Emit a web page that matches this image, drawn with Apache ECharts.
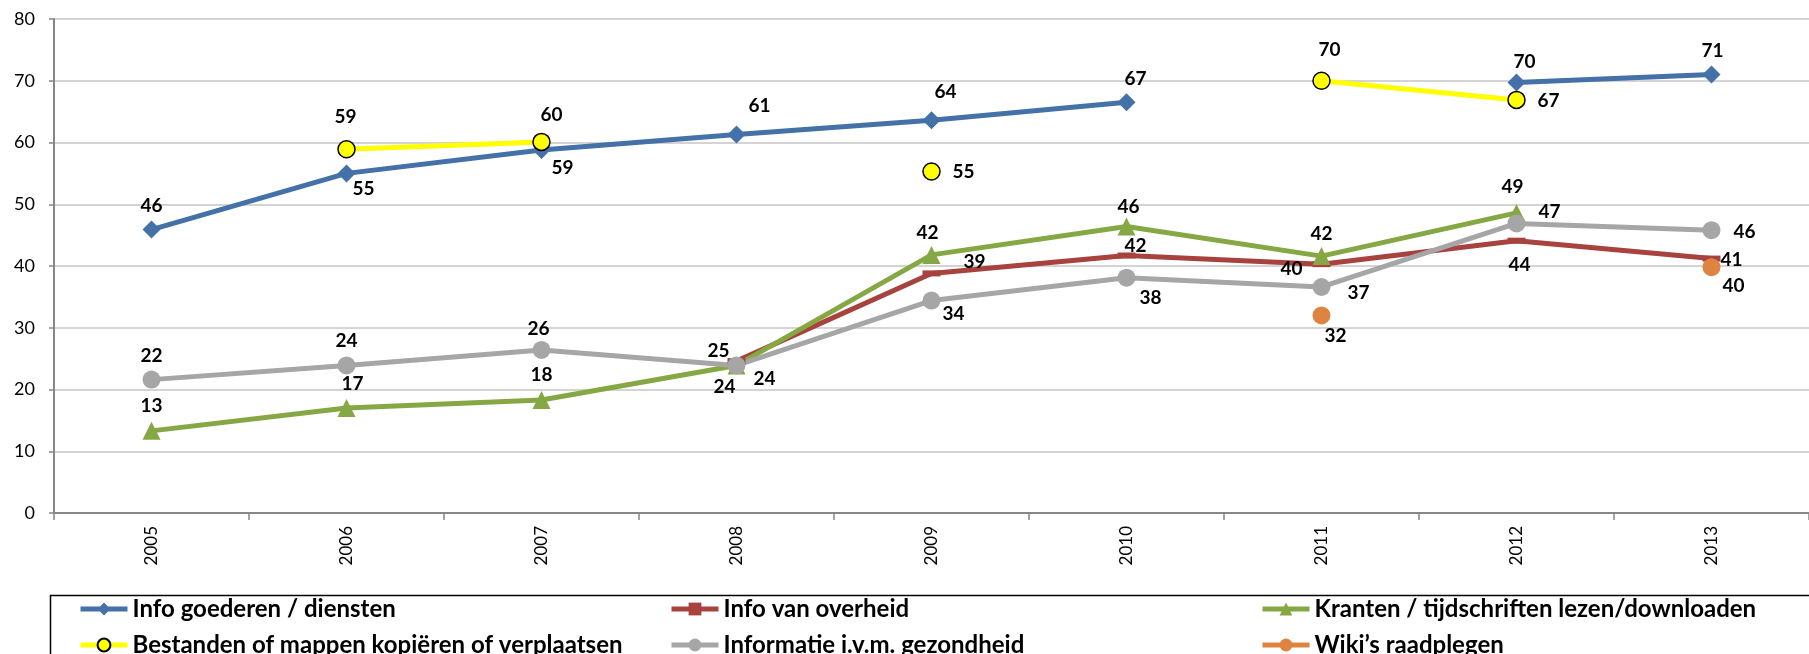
<!DOCTYPE html>
<html>
<head>
<meta charset="utf-8">
<script src="https://cdn.jsdelivr.net/npm/echarts@6/dist/echarts.min.js"></script>
<style>
  html, body { margin: 0; padding: 0; background: #fff; }
  #chart { width: 1809px; height: 654px; }
</style>
</head>
<body>
<div id="chart"></div>
<script>
  // categorieen
  var years = ['2005', '2006', '2007', '2008', '2009', '2010', '2011', '2012', '2013'];
  var yTicks = [0, 10, 20, 30, 40, 50, 60, 70, 80];

  // reeksen (percentages)
  var infoGoederen = [45.9, 55.0, 58.8, 61.3, 63.6, 66.5, null, 69.7, 71.0];
  var bestanden = [null, 58.9, 60.1, null, 55.3, null, 70.0, 66.9, null];
  var infoOverheid = [null, null, null, 24.6, 38.8, 41.7, 40.3, 44.1, 41.2];
  var kranten = [13.3, 17.0, 18.3, 23.9, 41.8, 46.4, 41.6, 48.6, null];
  var gezondheid = [21.6, 23.9, 26.4, 23.9, 34.4, 38.1, 36.6, 46.9, 45.8];
  var wiki = [null, null, null, null, null, null, 32.0, null, 39.8];

  // positie van de datalabels t.o.v. het punt (px)
  var offsets = {
    infoGoederen: [[0, -24], [17, 15], [21, 18], [23, -29], [14, -28], [9, -23], null, [8, -21], [1, -24]],
    bestanden: [null, [-1, -32], [10, -27], null, [32, 0], null, [8, -31], [32, 1], null],
    infoOverheid: [null, null, null, [-18, -10], [43, -12], [9, -10], [-30, 5], [3, 24], [20, 1]],
    kranten: [[0, -25], [6, -24], [0, -25], [-12, 21], [-4, -22], [2, -20], [0, -22], [-4, -26], null],
    gezondheid: [[0, -24], [0, -25], [-3, -21], [28, 13], [22, 13], [24, 20], [37, 6], [33, -12], [33, 2]],
    wiki: [null, null, null, null, null, null, [14, 20], null, [22, 19]]
  };

  function buildData(values, offs) {
    return values.map(function (v, i) {
      if (v === null) return null;
      return {
        value: v,
        label: { offset: offs[i] }
      };
    });
  }

  var labelStyle = {
    show: true,
    position: 'inside',
    align: 'center',
    verticalAlign: 'middle',
    color: '#000',
    fontFamily: 'Lato',
    fontWeight: 'bold',
    fontSize: 19,
    formatter: function (p) {
      return Math.round(p.value);
    }
  };

  function lineSeries(name, values, offs, color, symbol, symbolSize, itemStyle) {
    return {
      name: name,
      type: 'line',
      data: buildData(values, offs),
      connectNulls: false,
      symbol: symbol,
      symbolSize: symbolSize,
      showAllSymbol: true,
      lineStyle: { color: color, width: 5 },
      itemStyle: itemStyle || { color: color },
      label: labelStyle,
      emphasis: { disabled: true },
      animation: false
    };
  }

  var series = [
    lineSeries('Info goederen / diensten', infoGoederen, offsets.infoGoederen, '#4471A8', 'diamond', 18),
    lineSeries('Info van overheid', infoOverheid, offsets.infoOverheid, '#A8423F', 'rect', [18, 6]),
    lineSeries('Kranten / tijdschriften lezen/downloaden', kranten, offsets.kranten, '#86A844', 'triangle', 18),
    lineSeries('Bestanden of mappen kopiëren of verplaatsen', bestanden, offsets.bestanden, '#FFFF00', 'circle', 17,
      { color: '#FFFF00', borderColor: '#000', borderWidth: 1.5 }),
    lineSeries('Informatie i.v.m. gezondheid', gezondheid, offsets.gezondheid, '#A6A6A6', 'circle', 18),
    lineSeries("Wiki’s raadplegen", wiki, offsets.wiki, '#DE8341', 'circle', 18)
  ];
  // z-volgorde zoals in het origineel
  series[0].z = 6; series[3].z = 7;

  var legendText = { color: '#000', fontFamily: 'Lato', fontWeight: 'bold', fontSize: 24, lineHeight: 26 };
  function legendAt(name, left, top) {
    return {
      data: [name],
      left: left,
      top: top,
      padding: 0,
      itemWidth: 47,
      itemHeight: 16,
      itemGap: 0,
      lineStyle: { width: 5 },
      textStyle: legendText,
      selectedMode: false
    };
  }

  var option = {
    animation: false,
    backgroundColor: '#fff',
    grid: { left: 54, width: 1770, top: 19, bottom: 141, containLabel: false },
    xAxis: {
      type: 'category',
      data: years,
      boundaryGap: true,
      axisLine: { lineStyle: { color: '#878787', width: 2 } },
      axisTick: { show: true, length: 7, lineStyle: { color: '#878787', width: 1.5 } },
      axisLabel: {
        rotate: 90,
        margin: 13,
        color: '#000',
        fontFamily: 'Lato',
        fontSize: 17
      },
      splitLine: { show: false }
    },
    yAxis: {
      type: 'value',
      min: yTicks[0],
      max: yTicks[yTicks.length - 1],
      interval: 10,
      axisLine: { show: true, lineStyle: { color: '#878787', width: 2 } },
      axisTick: { show: true, length: 5, lineStyle: { color: '#878787', width: 1.5 } },
      axisLabel: {
        margin: 19,
        color: '#000',
        fontFamily: 'Lato',
        fontSize: 18
      },
      splitLine: { lineStyle: { color: '#C6C6C6', width: 1.5 } }
    },
    legend: [
      legendAt('Info goederen / diensten', 78, 596),
      legendAt('Info van overheid', 669, 596),
      legendAt('Kranten / tijdschriften lezen/downloaden', 1260, 596),
      legendAt('Bestanden of mappen kopiëren of verplaatsen', 78, 632),
      legendAt('Informatie i.v.m. gezondheid', 669, 632),
      legendAt("Wiki’s raadplegen", 1260, 632)
    ],
    graphic: [{
      type: 'rect',
      left: 48,
      top: 593,
      shape: { width: 1800, height: 100 },
      style: { fill: 'none', stroke: '#000', lineWidth: 1.5 },
      z: -1
    }],
    series: series
  };

  var chart = echarts.init(document.getElementById('chart'));
  chart.setOption(option);
  window.addEventListener('resize', function () {
    chart.resize();
  });
</script>
</body>
</html>
